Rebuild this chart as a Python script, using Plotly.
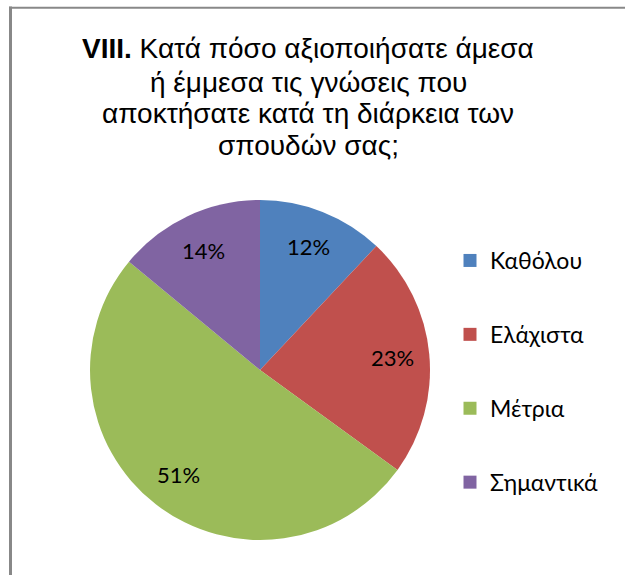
import math
import plotly.graph_objects as go

categories = ["Καθόλου", "Ελάχιστα", "Μέτρια", "Σημαντικά"]
values = [12, 23, 51, 14]
colors = ["#4F81BD", "#C0504D", "#9BBB59", "#8064A2"]
title_lines = [
    "<b>VIII.</b> Κατά πόσο αξιοποιήσατε άμεσα",
    "ή έμμεσα τις γνώσεις που",
    "αποκτήσατε κατά τη διάρκεια των",
    "σπουδών σας;",
]

W, H = 625, 575
# pie geometry (pixels)
CX, CY, R = 260, 370, 170
LABEL_R = 0.78

fig = go.Figure()
fig.add_trace(go.Pie(
    labels=categories,
    values=values,
    marker=dict(colors=colors, line=dict(width=0)),
    sort=False,
    direction="clockwise",
    rotation=0,
    textinfo="none",
    domain=dict(x=[(CX - R) / W, (CX + R) / W],
                y=[1 - (CY + R) / H, 1 - (CY - R) / H]),
    showlegend=False,
    hoverinfo="label+percent",
))

# legend entries (one group per category for spacing control)
for i, (c, col) in enumerate(zip(categories, colors)):
    fig.add_trace(go.Scatter(
        x=[None], y=[None], mode="markers", name=c,
        legendgroup=f"g{i}",
        marker=dict(symbol="square", size=13, color=col),
        showlegend=True, hoverinfo="skip",
    ))

annotations = []
# percentage labels, placed from the data (slice mid-angles)
total = sum(values)
cum = 0
for v in values:
    mid = (cum + v / 2) / total * 2 * math.pi
    cum += v
    px = CX + LABEL_R * R * math.sin(mid)
    py = CY - LABEL_R * R * math.cos(mid)
    annotations.append(dict(
        x=px / W, y=1 - py / H, xref="paper", yref="paper",
        text=f"{round(v / total * 100)}%", showarrow=False,
        xanchor="center", yanchor="middle",
        font=dict(family="Lato", size=22, color="black"),
    ))

# title lines
baselines = [58, 92, 123, 155]
for line, b in zip(title_lines, baselines):
    annotations.append(dict(
        x=308 / W, y=1 - (b - 10) / H, xref="paper", yref="paper",
        text=line, showarrow=False, xanchor="center", yanchor="middle",
        font=dict(family="Liberation Sans", size=28, color="black"),
    ))

fig.update_layout(
    width=W, height=H,
    margin=dict(l=0, r=0, t=0, b=0),
    paper_bgcolor="white", plot_bgcolor="white",
    xaxis=dict(visible=False), yaxis=dict(visible=False),
    legend=dict(
        x=450 / W, xanchor="left", y=1 - 239 / H, yanchor="top",
        font=dict(family="Lato", size=23, color="black"),
        tracegroupgap=41,
        itemwidth=30,
        bgcolor="rgba(0,0,0,0)",
    ),
    annotations=annotations,
    shapes=[
        dict(type="line", xref="paper", yref="paper",
             x0=10.5 / W, x1=10.5 / W, y0=0, y1=1 - 6.5 / H,
             line=dict(color="#888888", width=3)),
        dict(type="line", xref="paper", yref="paper",
             x0=9 / W, x1=1, y0=1 - 7.7 / H, y1=1 - 7.7 / H,
             line=dict(color="#888888", width=2)),
    ],
)

fig.write_html("out.html", config={"displayModeBar": False},
               post_script="document.body.style.margin='0';")
